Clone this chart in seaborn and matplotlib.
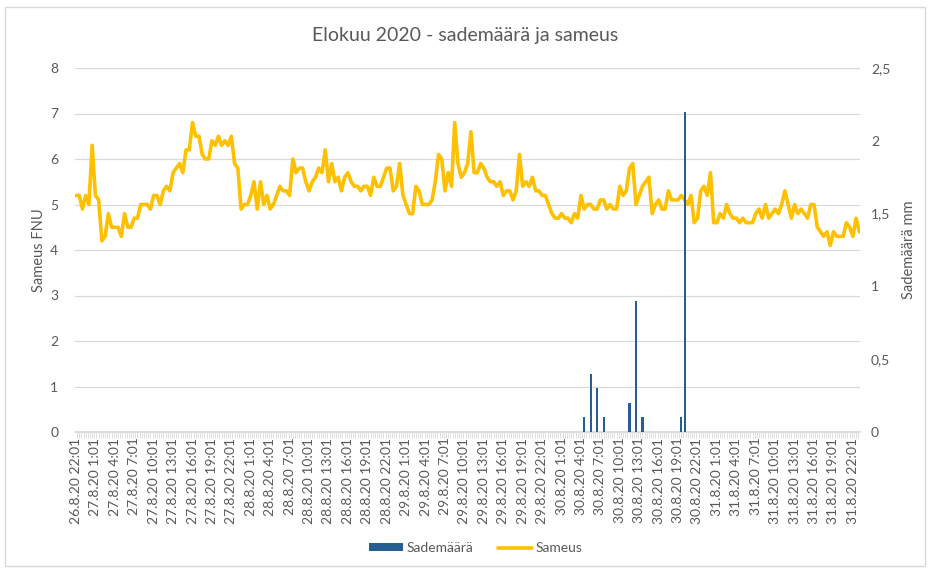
import numpy as np
import pandas as pd
import matplotlib
matplotlib.use("Agg")
import matplotlib.pyplot as plt
import seaborn as sns
from matplotlib.lines import Line2D
from matplotlib.patches import Patch, Rectangle
from matplotlib.ticker import FixedLocator, FuncFormatter

# sameus (FNU) puolen tunnin välein alkaen 26.8.20 22:01
alku = pd.Timestamp("2020-08-26 22:01")
sameus = [
    5.2, 5.2, 4.9, 5.2, 5.0, 6.3, 5.2, 5.1, 4.2, 4.3,
    4.8, 4.5, 4.5, 4.5, 4.3, 4.8, 4.5, 4.5, 4.7, 4.7,
    5.0, 5.0, 5.0, 4.9, 5.2, 5.2, 5.0, 5.3, 5.4, 5.3,
    5.7, 5.8, 5.9, 5.7, 6.2, 6.2, 6.8, 6.5, 6.5, 6.1,
    6.0, 6.0, 6.4, 6.3, 6.5, 6.3, 6.4, 6.3, 6.5, 5.9,
    5.8, 4.9, 5.0, 5.0, 5.2, 5.5, 4.9, 5.5, 5.0, 5.2,
    4.9, 5.0, 5.2, 5.4, 5.3, 5.3, 5.2, 6.0, 5.7, 5.8,
    5.8, 5.5, 5.3, 5.5, 5.6, 5.8, 5.7, 6.2, 5.5, 5.9,
    5.5, 5.6, 5.3, 5.6, 5.7, 5.5, 5.4, 5.4, 5.3, 5.4,
    5.4, 5.2, 5.6, 5.4, 5.4, 5.6, 5.8, 5.8, 5.3, 5.4,
    5.9, 5.2, 5.0, 4.8, 4.8, 5.4, 5.3, 5.0, 5.0, 5.0,
    5.1, 5.5, 6.1, 6.0, 5.3, 5.7, 5.4, 6.8, 5.9, 5.6,
    5.7, 5.9, 6.6, 5.7, 5.7, 5.9, 5.8, 5.6, 5.5, 5.5,
    5.4, 5.5, 5.2, 5.3, 5.3, 5.1, 5.3, 6.1, 5.4, 5.5,
    5.4, 5.6, 5.3, 5.3, 5.2, 5.2, 5.0, 4.8, 4.7, 4.7,
    4.8, 4.7, 4.7, 4.6, 4.8, 4.7, 5.2, 4.9, 5.0, 5.0,
    4.9, 4.9, 5.1, 5.1, 4.9, 5.0, 4.9, 4.9, 5.4, 5.2,
    5.3, 5.8, 5.9, 5.0, 5.2, 5.4, 5.5, 5.6, 4.8, 5.0,
    5.1, 4.9, 4.9, 5.3, 5.1, 5.1, 5.1, 5.2, 5.1, 5.0,
    5.2, 4.6, 4.7, 5.3, 5.4, 5.2, 5.7, 4.6, 4.6, 4.8,
    4.7, 5.0, 4.8, 4.7, 4.7, 4.6, 4.7, 4.6, 4.6, 4.6,
    4.8, 4.9, 4.7, 5.0, 4.7, 4.8, 4.9, 4.8, 5.0, 5.3,
    5.0, 4.7, 5.0, 4.8, 4.9, 4.8, 4.7, 5.0, 5.0, 4.5,
    4.4, 4.3, 4.4, 4.1, 4.4, 4.3, 4.3, 4.3, 4.6, 4.5,
    4.3, 4.7, 4.4,
]

sade_ajat = [
    "2020-08-30 04:31", "2020-08-30 05:31", "2020-08-30 06:31", "2020-08-30 07:31",
    "2020-08-30 11:31", "2020-08-30 12:31", "2020-08-30 13:31",
    "2020-08-30 19:31", "2020-08-30 20:01",
]
sade_mm = [0.1, 0.4, 0.3, 0.1, 0.2, 0.9, 0.1, 0.1, 2.2]

tunnit = np.arange(len(sameus)) * 0.5
sade_tunnit = (pd.to_datetime(sade_ajat) - alku) / pd.Timedelta(hours=1)
df = pd.DataFrame({"tunti": tunnit, "Sameus": sameus})

label_ajat = pd.date_range(alku, periods=41, freq="3h")
labels = [f"{t.day}.{t.month}.20 {t.hour}:{t.minute:02d}" for t in label_ajat]

sns.set_theme(style="white")
plt.rcParams["font.family"] = ["Lato", "DejaVu Sans"]

harmaa = "#595959"
viiva = "#D9D9D9"
sininen = "#255E91"
keltainen = "#FFC000"

fig = plt.figure(figsize=(9.3, 5.68), dpi=100)
ax = fig.add_axes([75 / 930, 136 / 568, 785 / 930, 364 / 568])
ax2 = ax.twinx()

sns.lineplot(data=df, x="tunti", y="Sameus", ax=ax, color=keltainen, lw=2.6)
ax2.bar(sade_tunnit, sade_mm, width=0.32, color=sininen, linewidth=0)

ax.set_xlim(-0.15, 121.1)
ax.set_ylim(0, 8)
ax2.set_ylim(0, 2.5)
ax.set_yticks(range(0, 9))
ax2.set_yticks([0, 0.5, 1, 1.5, 2, 2.5])
ax2.yaxis.set_major_formatter(FuncFormatter(lambda v, p: f"{v:g}".replace(".", ",")))

ax.set_xticks(np.arange(0, 121, 3))
ax.set_xticklabels(labels, rotation=90)
ax.xaxis.set_minor_locator(FixedLocator(np.arange(-1 / 6, 121.1, 1 / 3)))
ax.tick_params(axis="x", which="major", length=0, pad=4, labelsize=10, labelcolor=harmaa)
ax.tick_params(axis="x", which="minor", length=4, width=0.6, color=viiva, bottom=True)
ax.tick_params(axis="y", length=0, pad=12, labelsize=10, labelcolor=harmaa)
ax2.tick_params(axis="y", length=0, pad=8, labelsize=10, labelcolor=harmaa)

ax.yaxis.grid(True, color=viiva, lw=0.9)
ax.xaxis.grid(False)
for s in ["top", "left", "right"]:
    ax.spines[s].set_visible(False)
    ax2.spines[s].set_visible(False)
ax.spines["bottom"].set_color(viiva)
ax2.spines["bottom"].set_visible(False)

ax.set_xlabel("")
ax.set_ylabel("Sameus FNU", fontsize=10.5, color=harmaa, labelpad=3)
ax2.set_ylabel("Sademäärä mm", fontsize=10.5, color=harmaa, labelpad=8)

fig.text(0.5, 1 - 35 / 568, "Elokuu 2020 - sademäärä ja sameus",
         ha="center", va="center", fontsize=14, color=harmaa)

kahvat = [Patch(facecolor=sininen, edgecolor="none"),
          Line2D([0], [0], color=keltainen, lw=2.6)]
fig.legend(kahvat, ["Sademäärä", "Sameus"], loc="center", bbox_to_anchor=(476 / 930, 20 / 568),
           ncol=2, frameon=False, fontsize=10, labelcolor=harmaa,
           handlelength=2.4, handleheight=0.5, handletextpad=0.3, columnspacing=1.8)

fig.patches.append(Rectangle((5 / 930, 2 / 568), 920 / 930, 559 / 568, transform=fig.transFigure,
                             fill=False, edgecolor=viiva, lw=1))

fig.savefig("out.png", dpi=100, facecolor="white")
